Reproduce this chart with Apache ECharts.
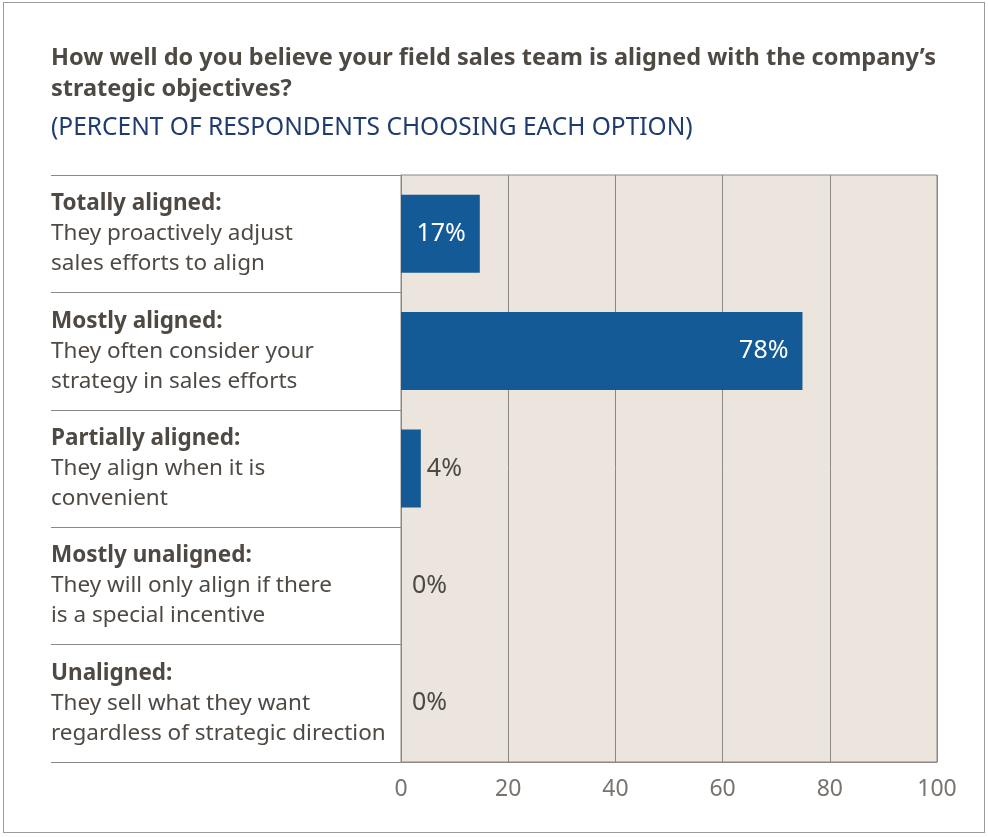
<!DOCTYPE html>
<html>
<head>
<meta charset="utf-8">
<script src="https://cdn.jsdelivr.net/npm/echarts@6/dist/echarts.min.js"></script>
<style>
    html, body { margin: 0; padding: 0; background: #fff; }
    #chart { position: absolute; left: 0; top: 0; width: 988px; height: 837px; }
    #frame { position: absolute; left: 3px; top: 2px; width: 982px; height: 831px; box-sizing: border-box;
             border: 1.5px solid #9b9b9b; pointer-events: none; }
</style>
</head>
<body>
<div id="chart"></div>
<div id="frame"></div>
<script>
// Survey options, top to bottom
const categoryHeads = ['Totally aligned:', 'Mostly aligned:', 'Partially aligned:', 'Mostly unaligned:', 'Unaligned:'];
const categoryLines = [
    ['They proactively adjust', 'sales efforts to align'],
    ['They often consider your', 'strategy in sales efforts'],
    ['They align when it is', 'convenient'],
    ['They will only align if there', 'is a special incentive'],
    ['They sell what they want', 'regardless of strategic direction']
];
// bar lengths as drawn, and the printed percentages
const barValues = [14.7, 74.9, 3.7, 0, 0];
const valueLabels = ['17%', '78%', '4%', '0%', '0%'];
const xTicks = [0, 20, 40, 60, 80, 100];

const FONT = '"Noto Sans", sans-serif';
const TEXT = '#4f4944';
const LINE = '#8c8782';

const chart = echarts.init(document.getElementById('chart'));

chart.setOption({
    backgroundColor: 'transparent',
    animation: false,
    title: [
        {
            text: 'How well do you believe your field sales team is aligned with the company\u2019s\nstrategic objectives?',
            left: 51, top: 43, padding: 0,
            textStyle: { fontFamily: FONT, fontSize: 23.5, fontWeight: 'bold', color: TEXT, lineHeight: 31 }
        },
        {
            text: '(PERCENT OF RESPONDENTS CHOOSING EACH OPTION)',
            left: 51, top: 114, padding: 0,
            textStyle: { fontFamily: FONT, fontSize: 24.5, fontWeight: 'normal', color: '#1e3c6e', lineHeight: 28 }
        }
    ],
    grid: {
        left: 401, right: 51, top: 175, bottom: 75,
        show: true, backgroundColor: '#ebe5de', borderColor: LINE, borderWidth: 1
    },
    xAxis: {
        type: 'value',
        min: xTicks[0], max: xTicks[xTicks.length - 1], interval: xTicks[1] - xTicks[0],
        axisLine: { show: true, lineStyle: { color: LINE } },
        axisTick: { show: false },
        splitLine: { show: true, lineStyle: { color: LINE, width: 1 } },
        axisLabel: { fontFamily: FONT, fontSize: 23, color: '#7a736d', margin: 16 }
    },
    yAxis: {
        type: 'category',
        inverse: true,
        data: categoryHeads,
        axisLine: { show: true, lineStyle: { color: LINE } },
        axisTick: { show: true, length: 350, lineStyle: { color: LINE } },
        axisLabel: {
            align: 'left', margin: 350,
            formatter: (v, i) => `{h|${categoryHeads[i]}}\n{t|${categoryLines[i][0]}}\n{t|${categoryLines[i][1]}}`,
            rich: {
                h: { fontFamily: FONT, fontSize: 22.5, fontWeight: 'bold', color: TEXT, lineHeight: 30 },
                t: { fontFamily: FONT, fontSize: 22.5, color: TEXT, lineHeight: 30 }
            }
        }
    },
    series: [{
        type: 'bar',
        barWidth: 78,
        itemStyle: { color: '#135a96' },
        label: {
            show: true, fontFamily: FONT, fontSize: 25,
            formatter: p => valueLabels[p.dataIndex]
        },
        data: barValues.map(v => ({
            value: v,
            label: v > 10
                ? { position: 'insideRight', distance: 14, color: '#ffffff' }
                : { position: 'right', distance: v > 0 ? 6 : 11, color: TEXT }
        }))
    }]
});
</script>
</body>
</html>
